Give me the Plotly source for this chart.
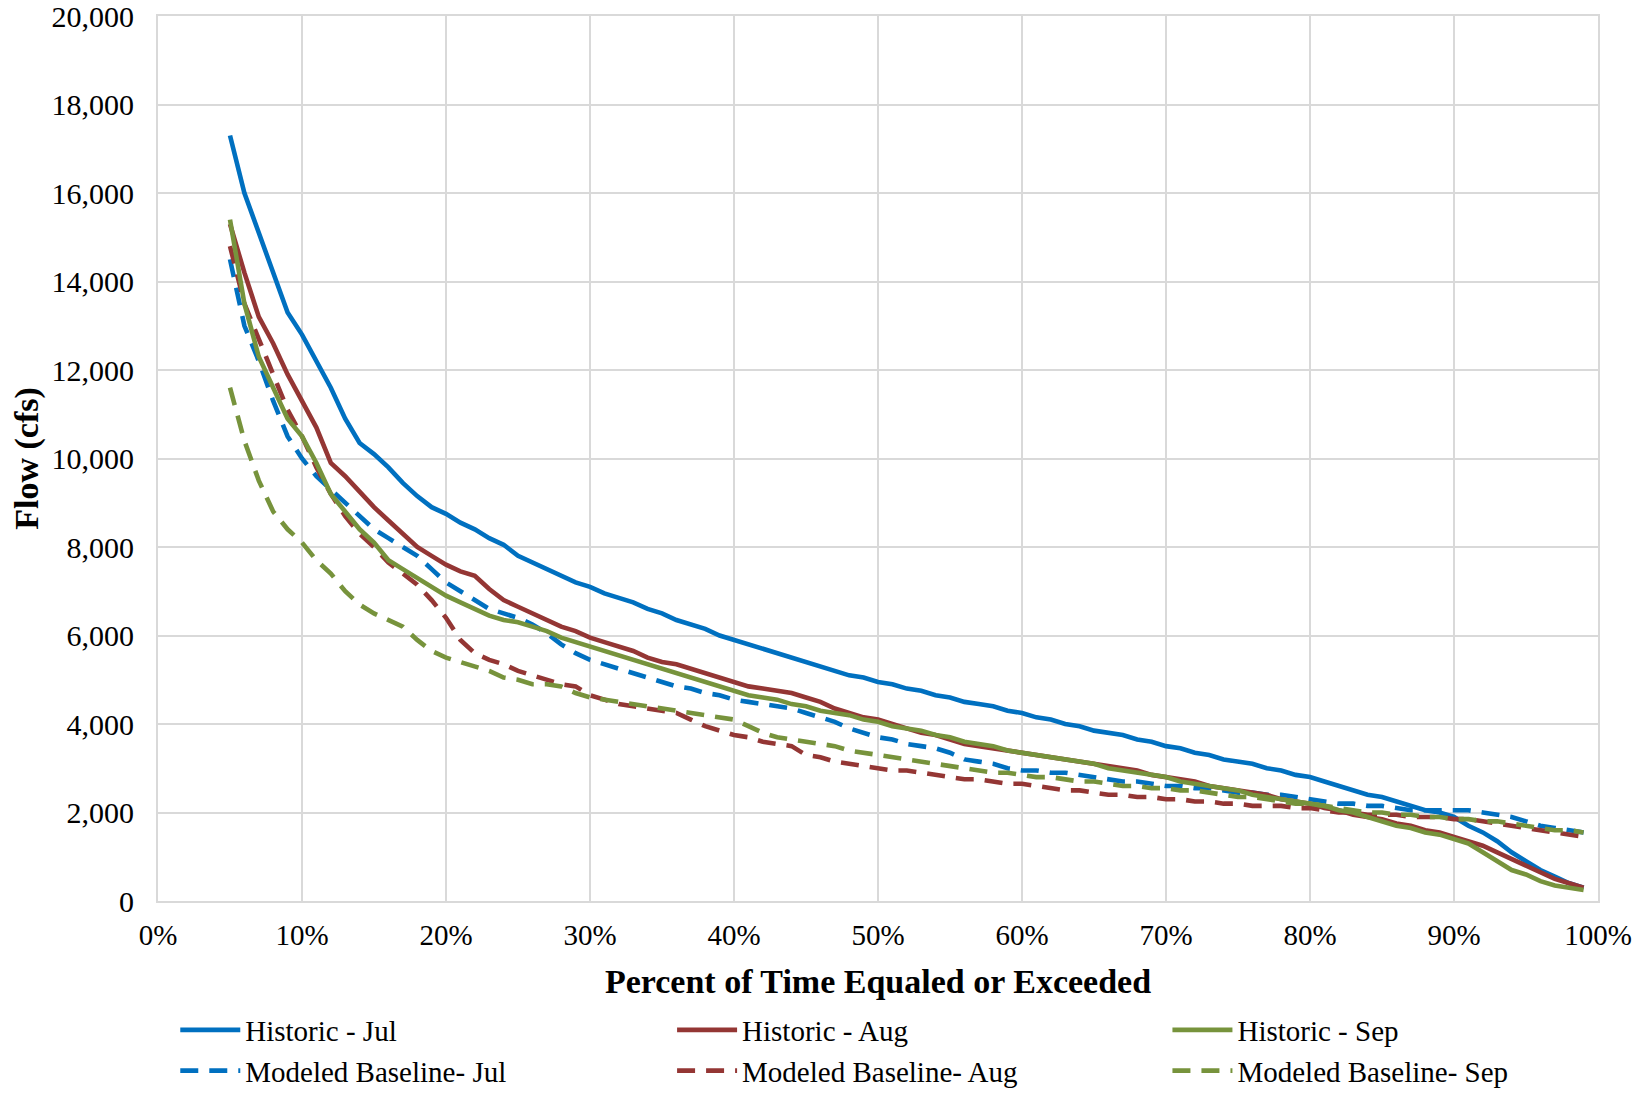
import plotly.graph_objects as go

pct = [p / 100 for p in range(5, 100)]

hist_jul = [17300, 16000, 15100, 14200, 13300, 12800, 12200, 11600, 10900, 10350,
            10100, 9800, 9450, 9150, 8900, 8750, 8550, 8400, 8200, 8050,
            7800, 7650, 7500, 7350, 7200, 7100, 6950, 6850, 6750, 6600,
            6500, 6350, 6250, 6150, 6000, 5900, 5800, 5700, 5600, 5500,
            5400, 5300, 5200, 5100, 5050, 4950, 4900, 4800, 4750, 4650,
            4600, 4500, 4450, 4400, 4300, 4250, 4150, 4100, 4000, 3950,
            3850, 3800, 3750, 3650, 3600, 3500, 3450, 3350, 3300, 3200,
            3150, 3100, 3000, 2950, 2850, 2800, 2700, 2600, 2500, 2400,
            2350, 2250, 2150, 2050, 2000, 1900, 1700, 1550, 1350, 1100,
            900, 700, 550, 400, 300]

hist_aug = [15300, 14200, 13200, 12600, 11900, 11300, 10700, 9900, 9600, 9250,
            8900, 8600, 8300, 8000, 7800, 7600, 7450, 7350, 7050, 6800,
            6650, 6500, 6350, 6200, 6100, 5950, 5850, 5750, 5650, 5500,
            5400, 5350, 5250, 5150, 5050, 4950, 4850, 4800, 4750, 4700,
            4600, 4500, 4350, 4250, 4150, 4100, 4000, 3900, 3800, 3750,
            3650, 3550, 3500, 3450, 3400, 3350, 3300, 3250, 3200, 3150,
            3100, 3050, 3000, 2950, 2850, 2800, 2750, 2700, 2600, 2550,
            2500, 2450, 2400, 2300, 2250, 2200, 2100, 2050, 1950, 1900,
            1850, 1750, 1700, 1600, 1550, 1450, 1350, 1250, 1100, 950,
            800, 650, 500, 400, 300]

hist_sep = [15400, 13500, 12300, 11600, 10900, 10500, 9900, 9200, 8800, 8400,
            8100, 7700, 7500, 7300, 7100, 6900, 6750, 6600, 6450, 6350,
            6300, 6200, 6100, 5950, 5850, 5750, 5650, 5550, 5450, 5350,
            5250, 5150, 5050, 4950, 4850, 4750, 4650, 4600, 4550, 4450,
            4400, 4300, 4250, 4200, 4100, 4050, 3950, 3900, 3850, 3750,
            3700, 3600, 3550, 3500, 3400, 3350, 3300, 3250, 3200, 3150,
            3100, 3000, 2950, 2900, 2850, 2800, 2700, 2650, 2600, 2550,
            2500, 2400, 2350, 2300, 2250, 2200, 2150, 2050, 2000, 1900,
            1800, 1700, 1650, 1550, 1500, 1400, 1300, 1100, 900, 700,
            600, 450, 350, 300, 250]

mod_jul = [14500, 13000, 12200, 11300, 10500, 10000, 9600, 9300, 9000, 8700,
           8400, 8200, 8000, 7800, 7500, 7200, 7000, 6800, 6600, 6500,
           6400, 6250, 6050, 5800, 5600, 5450, 5350, 5250, 5150, 5050,
           4950, 4850, 4800, 4700, 4650, 4550, 4500, 4450, 4400, 4350,
           4250, 4150, 4050, 3900, 3800, 3700, 3650, 3550, 3500, 3450,
           3350, 3200, 3150, 3100, 3000, 2950, 2950, 2900, 2900, 2850,
           2800, 2750, 2700, 2700, 2650, 2600, 2600, 2550, 2550, 2500,
           2450, 2450, 2400, 2400, 2350, 2300, 2250, 2200, 2200, 2150,
           2150, 2100, 2050, 2050, 2050, 2050, 2050, 2000, 1950, 1900,
           1800, 1700, 1650, 1600, 1550]

mod_aug = [14800, 13500, 12700, 11900, 11100, 10500, 9800, 9200, 8700, 8300,
           8000, 7650, 7400, 7150, 6800, 6400, 5900, 5600, 5450, 5350,
           5200, 5100, 5000, 4900, 4850, 4650, 4550, 4450, 4400, 4350,
           4300, 4250, 4100, 3950, 3850, 3750, 3700, 3600, 3550, 3500,
           3300, 3250, 3150, 3100, 3050, 3000, 2950, 2950, 2900, 2850,
           2800, 2750, 2750, 2700, 2650, 2650, 2600, 2550, 2500, 2500,
           2450, 2400, 2400, 2350, 2350, 2300, 2300, 2250, 2250, 2200,
           2200, 2150, 2150, 2150, 2100, 2100, 2050, 2000, 2000, 1950,
           1950, 1950, 1900, 1900, 1900, 1850, 1850, 1800, 1750, 1700,
           1650, 1600, 1550, 1500, 1450]

mod_sep = [11600, 10400, 9500, 8800, 8400, 8100, 7700, 7400, 7000, 6700,
           6500, 6350, 6200, 5900, 5650, 5500, 5400, 5300, 5200, 5050,
           5000, 4900, 4900, 4850, 4700, 4600, 4550, 4500, 4450, 4400,
           4350, 4300, 4250, 4200, 4150, 4100, 3950, 3800, 3700, 3650,
           3600, 3550, 3500, 3400, 3350, 3300, 3250, 3200, 3150, 3100,
           3050, 3000, 2950, 2900, 2900, 2850, 2800, 2800, 2750, 2700,
           2700, 2650, 2600, 2600, 2550, 2550, 2500, 2500, 2450, 2400,
           2350, 2350, 2300, 2250, 2200, 2200, 2150, 2100, 2050, 2000,
           2000, 1950, 1950, 1900, 1900, 1850, 1850, 1800, 1800, 1750,
           1700, 1650, 1600, 1600, 1550]

series = [
    ("Historic - Jul", hist_jul, "#0070C0", "solid", "legend"),
    ("Modeled Baseline- Jul", mod_jul, "#0070C0", "18px,11px", "legend"),
    ("Historic - Aug", hist_aug, "#943634", "solid", "legend2"),
    ("Modeled Baseline- Aug", mod_aug, "#943634", "18px,11px", "legend2"),
    ("Historic - Sep", hist_sep, "#77933C", "solid", "legend3"),
    ("Modeled Baseline- Sep", mod_sep, "#77933C", "18px,11px", "legend3"),
]

FONT = "Liberation Serif"

fig = go.Figure()
for name, vals, color, dash, lg in series:
    fig.add_trace(go.Scatter(x=pct, y=vals, mode="lines", name=name, legend=lg,
                             line=dict(color=color, width=4.6, dash=dash)))

grid = "#D9D9D9"
# plot area spans x 158..1598 px and y 16..901 px of the 1648x1093 page
leg_common = dict(orientation="v", y=-0.117, yanchor="top", xanchor="left",
                  font=dict(family=FONT, size=29), itemwidth=60, tracegroupgap=0,
                  bgcolor="rgba(0,0,0,0)")
fig.update_layout(
    width=1648, height=1093,
    margin=dict(l=158, r=50, t=16, b=192, autoexpand=False),
    paper_bgcolor="white", plot_bgcolor="white",
    font=dict(family=FONT, color="black", size=28),
    showlegend=True,
    legend=dict(x=0.012, **leg_common),
    legend2=dict(x=0.357, **leg_common),
    legend3=dict(x=0.701, **leg_common),
    xaxis=dict(range=[0, 1], dtick=0.1, tick0=0, tickformat=".0%",
               showgrid=True, gridcolor=grid, gridwidth=2,
               showline=True, linecolor=grid, linewidth=2, mirror=True,
               zeroline=False, ticks="", tickfont=dict(size=29),
               ticklabelstandoff=7, automargin=False, ticklabeloverflow="allow",
               title=dict(text="<b>Percent of Time Equaled or Exceeded</b>",
                          font=dict(size=34), standoff=19)),
    yaxis=dict(range=[0, 20000], dtick=2000, tickformat=",d",
               showgrid=True, gridcolor=grid, gridwidth=2,
               showline=True, linecolor=grid, linewidth=2, mirror=True,
               zeroline=False, ticks="", tickfont=dict(size=30),
               ticklabelstandoff=16, automargin=False, ticklabeloverflow="allow",
               title=dict(text="<b>Flow (cfs)</b>", font=dict(size=34), standoff=3)),
)

fig.write_html("out.html")
